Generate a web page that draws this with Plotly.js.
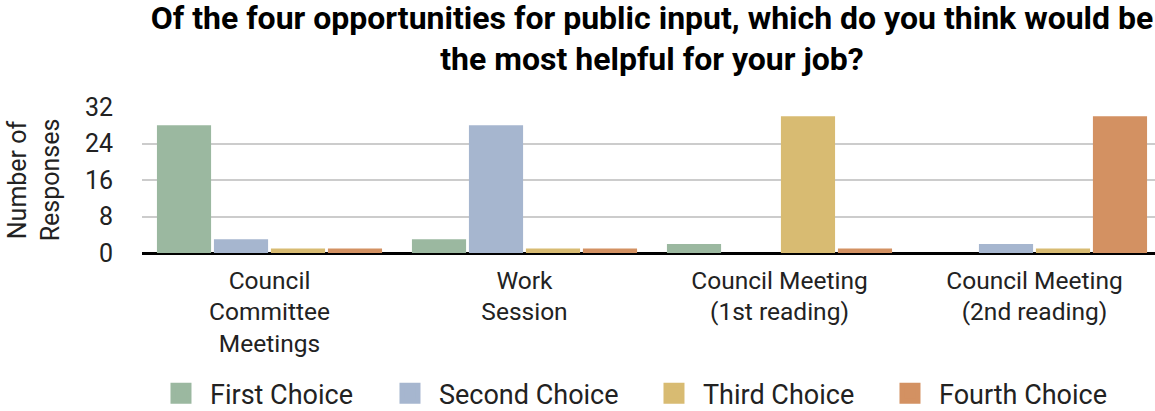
<!DOCTYPE html>
<html>
<head>
<meta charset="utf-8">
<script src="https://cdn.plot.ly/plotly-3.0.1.min.js"></script>
<style>html,body{margin:0;padding:0;background:#fff;overflow:hidden;}#chart{width:1162px;height:411px;}</style>
</head>
<body>
<div id="chart"></div>
<script>
const categories = ["Council<br>Committee<br>Meetings", "Work<br>Session", "Council Meeting<br>(1st reading)", "Council Meeting<br>(2nd reading)"];
const seriesNames = ["First Choice", "Second Choice", "Third Choice", "Fourth Choice"];
const firstChoice = [28, 3, 2, 0];
const secondChoice = [3, 28, 0, 2];
const thirdChoice = [1, 1, 30, 1];
const fourthChoice = [1, 1, 1, 30];
const colors = ["#9bb8a0", "#a6b6cf", "#d8bb72", "#d39162"];
const yTicks = [0, 8, 16, 24, 32];

// legend entry widths (layout only)
const legendEntryWidths = [166, 201, 173, 166];

const values = [firstChoice, secondChoice, thirdChoice, fourthChoice];
const traces = values.map((v, i) => ({
  type: "bar",
  name: seriesNames[i],
  legendgroup: seriesNames[i],
  showlegend: false,
  x: categories,
  y: v,
  marker: {color: colors[i]},
  hoverinfo: "x+y+name"
}));
// legend entries with larger square swatches
const legendTraces = seriesNames.map((n, i) => ({
  type: "scatter",
  mode: "markers",
  name: n,
  legendgroup: n,
  legendwidth: legendEntryWidths[i],
  x: [null],
  y: [null],
  marker: {symbol: "square", size: 16, color: colors[i], line: {color: colors[i], width: 5}},
  hoverinfo: "skip"
}));

const layout = {
  width: 1162, height: 411,
  margin: {l: 141.5, r: 0, t: 107, b: 158, pad: 0},
  paper_bgcolor: "#fff", plot_bgcolor: "#fff",
  font: {family: "Roboto, sans-serif", size: 25, color: "#000"},
  title: {
    text: "<b>Of the four opportunities for public input, which do you think would be<br>the most helpful for your job?</b>",
    font: {family: "Roboto, sans-serif", size: 32, color: "#000"},
    x: 0.5, xanchor: "center", xref: "paper",
    y: 0.93, yanchor: "top", yref: "container"
  },
  barmode: "group",
  bargap: 0.106,
  bargroupgap: 0.05,
  xaxis: {
    type: "category",
    tickfont: {size: 24.5, color: "#222"},
    showgrid: false, showline: false, ticks: "", zeroline: false,
    ticklabelstandoff: 10,
    automargin: false
  },
  yaxis: {
    range: [0, 32],
    tickvals: yTicks,
    ticktext: yTicks.map(String),
    tickfont: {size: 25, color: "#222"},
    gridcolor: "#cccccc", gridwidth: 1.5,
    zeroline: true, zerolinecolor: "#000", zerolinewidth: 3,
    ticks: "", ticklen: 0, ticklabelstandoff: 28,
    automargin: false,
    title: {text: "Number of<br>Responses", font: {size: 25, color: "#222"}, standoff: 18}
  },
  showlegend: true,
  legend: {
    orientation: "h", x: 0.1308, xanchor: "left", xref: "container",
    y: 0.042, yanchor: "middle", yref: "container",
    font: {size: 27, color: "#222"},
    itemwidth: 48, itemsizing: "trace",
    traceorder: "normal"
  }
};

Plotly.newPlot("chart", traces.concat(legendTraces), layout, {displayModeBar: false, responsive: false});
</script>
</body>
</html>
